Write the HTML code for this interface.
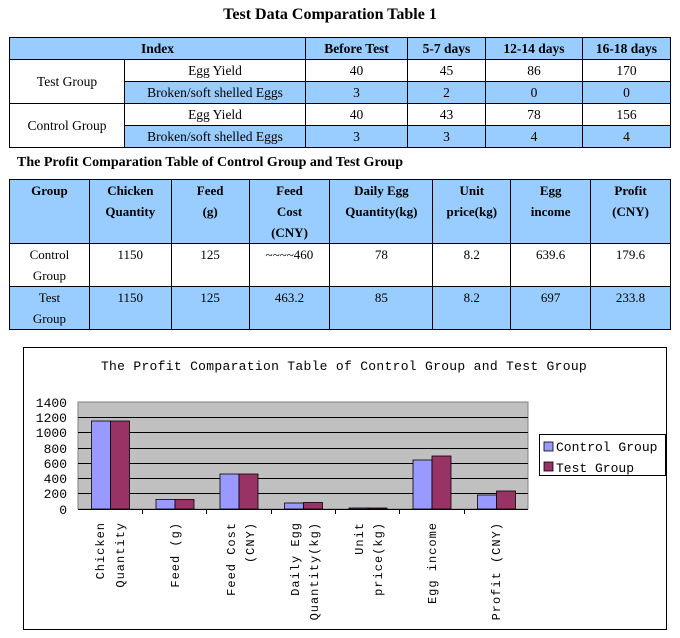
<!DOCTYPE html>
<html><head><meta charset="utf-8"><style>
body{margin:0;width:680px;height:638px;background:#fff;position:relative;overflow:hidden;font-family:"Liberation Serif",serif;}
.t{position:absolute;}
table{position:absolute;border-collapse:collapse;font-size:13px;}
td{border:1px solid #000;text-align:center;padding:0;}
.b{background:#99ccff;}
th{border:1px solid #000;background:#99ccff;font-weight:bold;padding:0;}
</style></head><body>
<div class="t" style="left:0;width:660px;top:6px;text-align:center;font-weight:bold;font-size:16px;">Test Data Comparation Table 1</div>
<table style="left:9px;top:37px;width:662px;font-size:13.5px;">
<colgroup><col style="width:115px"><col style="width:181px"><col style="width:102px"><col style="width:78px"><col style="width:97px"><col style="width:88px"></colgroup>
<tr style="height:22px"><th colspan="2">Index</th><th>Before Test</th><th>5-7 days</th><th>12-14 days</th><th>16-18 days</th></tr>
<tr style="height:22px"><td rowspan="2">Test Group</td><td>Egg Yield</td><td>40</td><td>45</td><td>86</td><td>170</td></tr>
<tr style="height:22px" class="b"><td>Broken/soft shelled Eggs</td><td>3</td><td>2</td><td>0</td><td>0</td></tr>
<tr style="height:22px"><td rowspan="2">Control Group</td><td>Egg Yield</td><td>40</td><td>43</td><td>78</td><td>156</td></tr>
<tr style="height:22px" class="b"><td>Broken/soft shelled Eggs</td><td>3</td><td>3</td><td>4</td><td>4</td></tr>
</table>
<div class="t" style="left:17px;top:155px;font-weight:bold;font-size:14px;">The Profit Comparation Table of Control Group and Test Group</div>
<table style="left:9px;top:179px;width:662px;line-height:21px;">
<colgroup><col style="width:80px"><col style="width:82px"><col style="width:78px"><col style="width:81px"><col style="width:103px"><col style="width:78px"><col style="width:80px"><col style="width:80px"></colgroup>
<tr style="height:64px;vertical-align:top"><th>Group</th><th>Chicken<br>Quantity</th><th>Feed<br>(g)</th><th>Feed<br>Cost<br>(CNY)</th><th>Daily Egg<br>Quantity(kg)</th><th>Unit<br>price(kg)</th><th>Egg<br>income</th><th>Profit<br>(CNY)</th></tr>
<tr style="height:43px;vertical-align:top"><td>Control<br>Group</td><td>1150</td><td>125</td><td>~~~~460</td><td>78</td><td>8.2</td><td>639.6</td><td>179.6</td></tr>
<tr style="height:43px;vertical-align:top" class="b"><td>Test<br>Group</td><td>1150</td><td>125</td><td>463.2</td><td>85</td><td>8.2</td><td>697</td><td>233.8</td></tr>
</table>
<svg class="t" style="left:0;top:0" width="680" height="638" font-family="'Liberation Mono',monospace">
<rect x="23.5" y="347.5" width="643" height="282" fill="#fff" stroke="#000"/>
<text x="344" y="370" font-size="13" text-anchor="middle" letter-spacing="0.3">The Profit Comparation Table of Control Group and Test Group</text>
<rect x="78" y="402" width="450" height="107" fill="#c0c0c0" stroke="#808080"/>
<g stroke="#000" stroke-width="1">
<line x1="78" y1="417.5" x2="528" y2="417.5"/><line x1="78" y1="432.5" x2="528" y2="432.5"/><line x1="78" y1="448.5" x2="528" y2="448.5"/><line x1="78" y1="463.5" x2="528" y2="463.5"/><line x1="78" y1="478.5" x2="528" y2="478.5"/><line x1="78" y1="493.5" x2="528" y2="493.5"/>
<line x1="78" y1="509.5" x2="528" y2="509.5"/>
<line x1="142.5" y1="509" x2="142.5" y2="514"/><line x1="206.5" y1="509" x2="206.5" y2="514"/><line x1="271.5" y1="509" x2="271.5" y2="514"/><line x1="335.5" y1="509" x2="335.5" y2="514"/><line x1="399.5" y1="509" x2="399.5" y2="514"/><line x1="464.5" y1="509" x2="464.5" y2="514"/>
</g>
<g stroke="#000" stroke-width="0.8">
<rect x="91.5" y="421" width="19" height="88" fill="#9999ff"/><rect x="110.5" y="421" width="19" height="88" fill="#993366"/>
<rect x="156" y="499.5" width="19" height="9.5" fill="#9999ff"/><rect x="175" y="499.5" width="19" height="9.5" fill="#993366"/>
<rect x="220" y="474" width="19" height="35" fill="#9999ff"/><rect x="239" y="474" width="19" height="35" fill="#993366"/>
<rect x="284.5" y="503" width="19" height="6" fill="#9999ff"/><rect x="303.5" y="502.5" width="19" height="6.5" fill="#993366"/>
<rect x="349" y="508" width="19" height="1" fill="#9999ff"/><rect x="368" y="508" width="19" height="1" fill="#993366"/>
<rect x="413" y="460" width="19" height="49" fill="#9999ff"/><rect x="432" y="456" width="19" height="53" fill="#993366"/>
<rect x="477.5" y="495" width="19" height="14" fill="#9999ff"/><rect x="496.5" y="491" width="19" height="18" fill="#993366"/>
</g>
<g font-size="13" text-anchor="end">
<text x="67" y="407">1400</text><text x="67" y="422">1200</text><text x="67" y="437">1000</text><text x="67" y="453">800</text><text x="67" y="468">600</text><text x="67" y="483">400</text><text x="67" y="498">200</text><text x="67" y="514">0</text>
</g>
<g font-size="12" text-anchor="end" letter-spacing="1">
<text transform="translate(104,522) rotate(-90)">Chicken</text>
<text transform="translate(124,522) rotate(-90)">Quantity</text>
<text transform="translate(179,522) rotate(-90)">Feed (g)</text>
<text transform="translate(235,522) rotate(-90)">Feed Cost</text>
<text transform="translate(254,522) rotate(-90)">(CNY)</text>
<text transform="translate(299,522) rotate(-90)">Daily Egg</text>
<text transform="translate(318,522) rotate(-90)">Quantity(kg)</text>
<text transform="translate(363,522) rotate(-90)">Unit</text>
<text transform="translate(382,522) rotate(-90)">price(kg)</text>
<text transform="translate(436,522) rotate(-90)">Egg income</text>
<text transform="translate(500,522) rotate(-90)">Profit (CNY)</text>
</g>
<rect x="539.5" y="434.5" width="126" height="41" fill="#fff" stroke="#000"/>
<rect x="544" y="442" width="9" height="9" fill="#9999ff" stroke="#000" stroke-width="0.8"/>
<rect x="544" y="462" width="9" height="9" fill="#993366" stroke="#000" stroke-width="0.8"/>
<g font-size="13"><text x="556" y="451">Control Group</text><text x="556" y="472">Test Group</text></g>
</svg>
</body></html>
